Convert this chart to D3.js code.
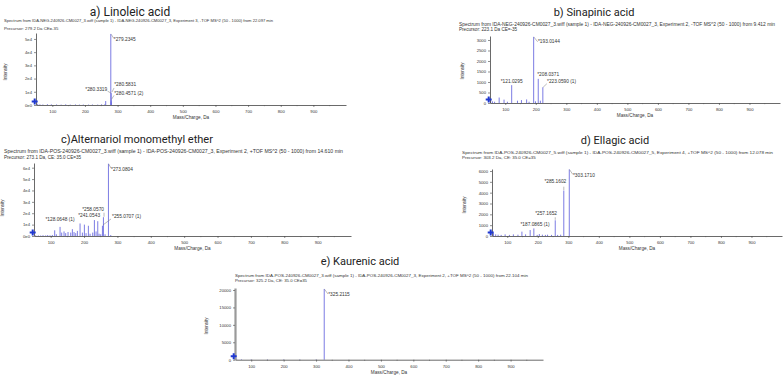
<!DOCTYPE html>
<html><head><meta charset="utf-8">
<script src="https://cdn.jsdelivr.net/npm/d3@7"></script>
<style>body{margin:0;background:#fff}svg{display:block}</style>
</head><body><svg id="c" width="784" height="376"></svg>
<script>
// ---------------- DATA ----------------
const xTickValues = [100, 200, 300, 400, 500, 600, 700, 800, 900];

const linoleicMz  = [55, 62, 71, 85, 97, 113, 127, 141, 155, 171, 183, 195, 211, 223, 239, 251, 261, 263.6, 279.2345, 280.3319, 280.4571, 280.5831];
const linoleicInt = [900, 500, 400, 600, 500, 400, 300, 500, 300, 400, 300, 350, 300, 400, 300, 500, 600, 3000, 53800, 9000, 3500, 2000];
const linoleicYTicks = [0, 10000, 20000, 30000, 40000, 50000];
const linoleicLabelMz = [279.2345, 280.3319, 280.5831, 280.4571];
const linoleicLabels  = ["*279.2345", "*280.3319", "*280.5831", "*280.4571 (2)"];

const sinapinicMz  = [52, 58, 65, 80, 96, 107, 121.0295, 140, 153, 170, 178, 193.0144, 199, 208.0371, 215, 223.0590];
const sinapinicInt = [150, 80, 60, 260, 160, 60, 850, 110, 140, 170, 60, 3150, 80, 1150, 110, 750];
const sinapinicYTicks = [0, 500, 1000, 1500, 2000, 2500, 3000];
const sinapinicLabelMz = [193.0144, 208.0371, 223.0590, 121.0295];
const sinapinicLabels  = ["*193.0144", "*208.0371", "*223.0590 (1)", "*121.0295"];

const altMz  = [55, 63, 70, 77, 85, 91, 98, 105, 112, 117, 128.0648, 133, 140, 145, 152, 160, 165, 170, 175, 180, 188, 195, 201, 206, 213, 218, 226, 231, 236, 241.0543, 245, 250, 255.0707, 258.0570, 263, 273.0804, 280];
const altInt = [600, 500, 400, 700, 500, 800, 600, 900, 5000, 1500, 8000, 3000, 4000, 2500, 3500, 3000, 6000, 3500, 2500, 4500, 11000, 3000, 10000, 2500, 9000, 2000, 3000, 14000, 4000, 13000, 2000, 1500, 9000, 16500, 1500, 63500, 800];
const altYTicks = [0, 10000, 20000, 30000, 40000, 50000, 60000];
const altLabelMz = [273.0804, 258.0570, 241.0543, 255.0707, 128.0648];
const altLabels  = ["*273.0804", "*258.0570", "*241.0543", "*255.0707 (1)", "*128.0648 (1)"];

const ellagicMz  = [55, 62, 70, 80, 93, 107, 120, 135, 148, 160, 175, 187.0865, 198, 205, 215, 225, 232, 245, 257.1652, 265, 275, 285.1602, 303.1710];
const ellagicInt = [250, 150, 120, 100, 150, 100, 150, 120, 400, 150, 550, 700, 100, 180, 120, 100, 120, 100, 1450, 100, 120, 4200, 6150];
const ellagicYTicks = [0, 1000, 2000, 3000, 4000, 5000, 6000];
const ellagicLabelMz = [303.1710, 285.1602, 257.1652, 187.0865];
const ellagicLabels  = ["*303.1710", "*285.1602", "*257.1652", "*187.0865 (1)"];

const kaurenicMz  = [55, 70, 100, 150, 200, 250, 300, 325.2115];
const kaurenicInt = [300, 150, 100, 100, 100, 100, 100, 20300];
const kaurenicYTicks = [0, 5000, 10000, 15000, 20000];
const kaurenicLabelMz = [325.2115];
const kaurenicLabels  = ["*325.2115"];

const titles = ["a) Linoleic acid", "b) Sinapinic acid", "c)Alternariol monomethyl ether", "d) Ellagic acid", "e) Kaurenic acid"];
const headers = [
  "Spectrum from IDA-NEG-240926-CM0027_3.wiff (sample 1) - IDA-NEG-240926-CM0027_3, Experiment 3, -TOF MS^2 (50 - 1000) from 22.097 min",
  "Spectrum from IDA-NEG-240926-CM0027_3.wiff (sample 1) - IDA-NEG-240926-CM0027_3, Experiment 2, -TOF MS^2 (50 - 1000) from 9.412 min",
  "Spectrum from IDA-POS-240926-CM0027_3.wiff (sample 1) - IDA-POS-240926-CM0027_3, Experiment 2, +TOF MS^2 (50 - 1000) from 14.610 min",
  "Spectrum from IDA-POS-240926-CM0027_5.wiff (sample 1) - IDA-POS-240926-CM0027_5, Experiment 4, +TOF MS^2 (50 - 1000) from 12.078 min",
  "Spectrum from IDA-POS-240926-CM0027_3.wiff (sample 1) - IDA-POS-240926-CM0027_3, Experiment 2, +TOF MS^2 (50 - 1000) from 22.104 min"
];
const precursors = [
  "Precursor: 279.2 Da CE=-35",
  "Precursor: 223.1 Da CE=-35",
  "Precursor: 273.1 Da, CE: 35.0 CE=35",
  "Precursor: 303.2 Da, CE: 35.0 CE=35",
  "Precursor: 325.2 Da, CE: 35.0 CE=35"
];
const xAxisTitle = "Mass/Charge, Da";
const yAxisTitle = "Intensity";

// ---------------- LAYOUT ----------------
const fmtE = v => v === 0 ? "0e0" : (v / 10000) + "e4";
const fmtN = v => String(v);

const panels = [
  {mz: linoleicMz, int: linoleicInt, yt: linoleicYTicks, lmz: linoleicLabelMz, lab: linoleicLabels, fmt: fmtE,
   x0: 36, x1: 346, yb: 105, ytop: 33, ymax: 54500, tx: 130, ty: 16, tfs: 12, hx: 4, hy: 22.3, hw: 269, py: 29.5, hfs: 4.3,
   ylx: 7, yly: 72, thickY: false,
   lay: [
     {a: "start", dx: 3, dy: 7.5, ln: [0.4, 0.4, 3, 4.5]},
     {a: "end", dx: -4, dy: -2.6, ln: [-0.2, 0, -3.6, -2]},
     {a: "start", dx: 3, dy: -15.9, ln: [0.8, -10.4, 2.8, -14.4]},
     {a: "start", dx: 3, dy: -4.9, ln: [0.3, -1, 2.8, -5]}
   ]},
  {mz: sinapinicMz, int: sinapinicInt, yt: sinapinicYTicks, lab: sinapinicLabels, lmz: sinapinicLabelMz, fmt: fmtN,
   x0: 490, x1: 780, yb: 103, ytop: 36, ymax: 3190, tx: 594, ty: 16, tfs: 11, hx: 459, hy: 25.5, hw: 316, py: 30.8, hfs: 4.6,
   ylx: 464, yly: 71, thickY: false,
   lay: [
     {a: "start", dx: 4.3, dy: 6.6, ln: [0.3, 0.3, 4, 5]},
     {a: "start", dx: -1, dy: -3.3, ln: null},
     {a: "start", dx: 4.2, dy: -4.7, ln: [0.3, 0, 4, -3.5]},
     {a: "middle", dx: 0, dy: -2.6, ln: null}
   ]},
  {mz: altMz, int: altInt, yt: altYTicks, lab: altLabels, lmz: altLabelMz, fmt: fmtE,
   x0: 34, x1: 351, yb: 236, ytop: 163, ymax: 64130, tx: 137, ty: 142.5, tfs: 11, hx: 4, hy: 152.5, hw: 339, py: 158.6, hfs: 4.6,
   ylx: 4, yly: 208, thickY: false,
   lay: [
     {a: "start", dx: 2.6, dy: 6.8, ln: [0.3, 0.3, 2.6, 4.5]},
     {a: "end", dx: 0.6, dy: -6.7, ln: [0.6, -4.5, 0.6, -0.5]},
     {a: "end", dx: 2.3, dy: -4.7, ln: null},
     {a: "start", dx: 9.6, dy: -7.3, ln: [0.6, -0.8, 8.6, -6.8]},
     {a: "middle", dx: 0, dy: -5.4, ln: null}
   ]},
  {mz: ellagicMz, int: ellagicInt, yt: ellagicYTicks, lab: ellagicLabels, lmz: ellagicLabelMz, fmt: fmtN,
   x0: 492, x1: 782, yb: 236, ytop: 169, ymax: 6185, tx: 615, ty: 144, tfs: 11, hx: 462, hy: 153.8, hw: 311, py: 158.7, hfs: 4.4,
   ylx: 466, yly: 205, thickY: false,
   lay: [
     {a: "start", dx: 3.7, dy: 8.1, ln: [0.3, 0.3, 3.5, 5]},
     {a: "end", dx: 2.5, dy: -7.5, ln: [0, -0.5, 0, -3.8]},
     {a: "end", dx: 1.8, dy: -4.8, ln: [0, -0.5, 0, -3]},
     {a: "middle", dx: 1.2, dy: -2.6, ln: null}
   ]},
  {mz: kaurenicMz, int: kaurenicInt, yt: kaurenicYTicks, lab: kaurenicLabels, lmz: kaurenicLabelMz, fmt: fmtN,
   x0: 235, x1: 543, yb: 359.7, ytop: 288, ymax: 20574, tx: 360, ty: 265, tfs: 11, hx: 235, hy: 276.5, hw: 293, py: 281.8, hfs: 4.3,
   ylx: 208, yly: 326, thickY: true,
   lay: [
     {a: "start", dx: 4, dy: 7.5, ln: [0.3, 0.3, 3.7, 5]}
   ]}
];

// ---------------- DRAW ----------------
const svg = d3.select("#c");
svg.append("rect").attr("width", 784).attr("height", 376).attr("fill", "#fff");
const SANS = "'Liberation Sans', Arial, sans-serif";
const PEAK = "#6d6de0";

panels.forEach((p, i) => {
  const g = svg.append("g");
  const x = d3.scaleLinear().domain([50, 1000]).range([p.x0, p.x1]);
  const y = d3.scaleLinear().domain([0, p.ymax]).range([p.yb, p.ytop]);

  g.append("text").attr("x", p.tx).attr("y", p.ty).attr("text-anchor", "middle")
    .attr("font-family", "Roboto").attr("font-size", p.tfs).attr("fill", "#222").text(titles[i]);

  g.append("text").attr("x", p.hx).attr("y", p.hy).attr("font-family", SANS).attr("font-size", p.hfs)
    .attr("fill", "#333").attr("textLength", p.hw).attr("lengthAdjust", "spacingAndGlyphs").text(headers[i]);
  g.append("text").attr("x", p.hx).attr("y", p.py).attr("font-family", SANS).attr("font-size", p.hfs)
    .attr("fill", "#333").text(precursors[i]);

  // peaks
  g.append("g").selectAll("line").data(d3.zip(p.mz, p.int)).join("line")
    .attr("x1", d => x(d[0])).attr("x2", d => x(d[0]))
    .attr("y1", y(0)).attr("y2", d => y(d[1]))
    .attr("stroke", PEAK).attr("stroke-width", 0.9);

  // x axis
  const xa = g.append("g").attr("transform", `translate(0,${p.yb})`)
    .call(d3.axisBottom(x).tickValues(xTickValues).tickSize(2).tickSizeOuter(0).tickPadding(3));
  xa.select(".domain").attr("stroke", "#444").attr("stroke-width", 0.8);
  xa.selectAll(".tick line").attr("stroke", "#444").attr("stroke-width", 0.6);
  xa.selectAll("text").attr("font-family", SANS).attr("font-size", 4.2).attr("fill", "#333");
  // minor ticks
  g.append("g").selectAll("line").data(d3.range(150, 1000, 100)).join("line")
    .attr("x1", d => x(d)).attr("x2", d => x(d)).attr("y1", p.yb).attr("y2", p.yb + 1.2)
    .attr("stroke", "#555").attr("stroke-width", 0.5);

  g.append("text").attr("x", (p.x0 + p.x1) / 2).attr("y", p.yb + 13.8).attr("text-anchor", "middle")
    .attr("font-family", SANS).attr("font-size", 4.7).attr("fill", "#333").text(xAxisTitle);

  // y axis
  const ya = g.append("g").attr("transform", `translate(${p.x0},0)`)
    .call(d3.axisLeft(y).tickValues(p.yt).tickFormat(p.fmt).tickSize(2).tickSizeOuter(0).tickPadding(2));
  ya.select(".domain").attr("stroke", p.thickY ? "#9a9a9a" : "#444").attr("stroke-width", p.thickY ? 2.2 : 0.8);
  ya.selectAll(".tick line").attr("stroke", "#444").attr("stroke-width", 0.6);
  ya.selectAll("text").attr("font-family", SANS).attr("font-size", 4.2).attr("fill", "#333");

  g.append("text").attr("transform", `translate(${p.ylx},${p.yly}) rotate(-90)`).attr("text-anchor", "middle")
    .attr("font-family", SANS).attr("font-size", 4.5).attr("fill", "#333").text(yAxisTitle);

  // labels
  p.lab.forEach((t, j) => {
    const m = p.lmz[j];
    const k = p.mz.indexOf(m);
    const px = x(m), pt = y(p.int[k]);
    const L = p.lay[j];
    if (L.ln) g.append("line").attr("x1", px + L.ln[0]).attr("y1", pt + L.ln[1])
      .attr("x2", px + L.ln[2]).attr("y2", pt + L.ln[3]).attr("stroke", "#777").attr("stroke-width", 0.5);
    g.append("text").attr("x", px + L.dx).attr("y", pt + L.dy).attr("text-anchor", L.a)
      .attr("font-family", SANS).attr("font-size", 4.8).attr("fill", "#333").text(t);
  });

  // precursor marker
  g.append("path").attr("d", d3.symbol(d3.symbolCross, 20)())
    .attr("transform", `translate(${p.x0 - 1.3},${p.yb - 3.5})`).attr("fill", "#2038d0");
});
</script>
</body></html>
